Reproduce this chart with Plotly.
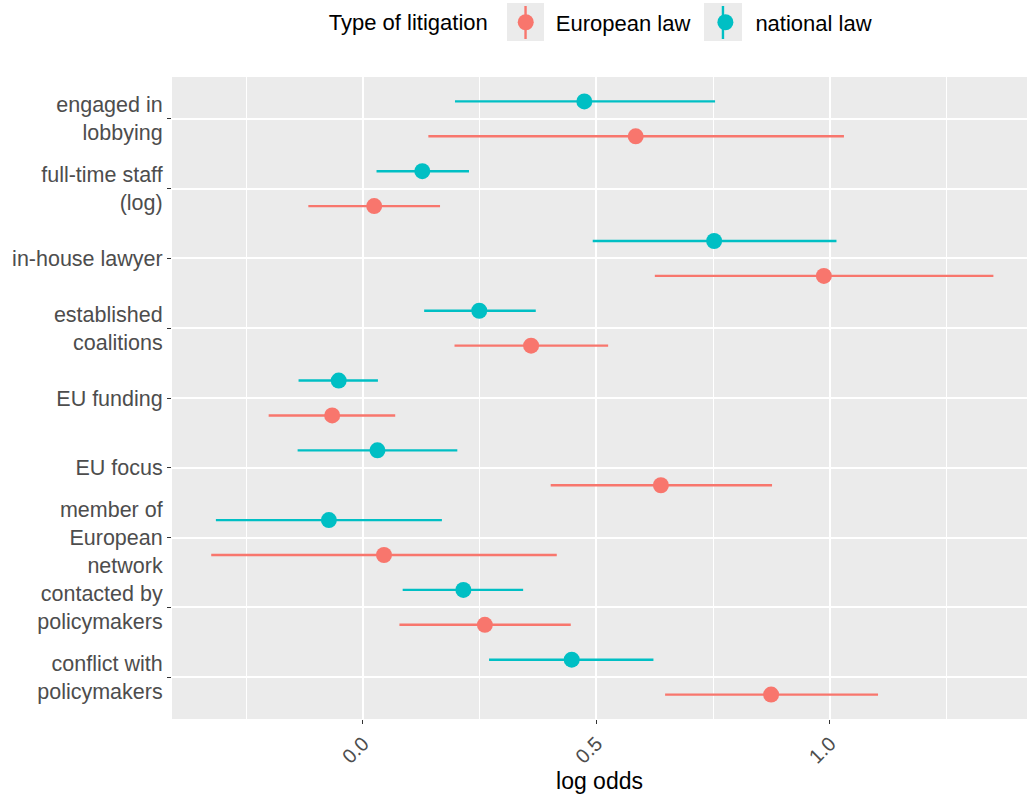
import plotly.graph_objects as go

# ---- data (top to bottom) ----
variables = [
    "engaged in<br>lobbying",
    "full-time staff<br>(log)",
    "in-house lawyer",
    "established<br>coalitions",
    "EU funding",
    "EU focus",
    "member of<br>European<br>network",
    "contacted by<br>policymakers",
    "conflict with<br>policymakers",
]

european_est = [0.584, 0.024, 0.987, 0.360, -0.066, 0.638, 0.045, 0.261, 0.874]
european_lo = [0.140, -0.117, 0.625, 0.196, -0.202, 0.402, -0.325, 0.078, 0.647]
european_hi = [1.030, 0.165, 1.350, 0.525, 0.069, 0.876, 0.415, 0.445, 1.103]

national_est = [0.474, 0.127, 0.752, 0.249, -0.052, 0.031, -0.073, 0.215, 0.447]
national_lo = [0.197, 0.029, 0.492, 0.131, -0.138, -0.140, -0.315, 0.085, 0.270]
national_hi = [0.754, 0.227, 1.014, 0.370, 0.032, 0.202, 0.169, 0.343, 0.622]

x_ticks = [0.0, 0.5, 1.0]
x_ticklabels = ["0.0", "0.5", "1.0"]
x_minor = [-0.25, 0.25, 0.75, 1.25]

# ---- styling ----
RED = "#F8766D"
TEAL = "#00BFC4"
FONT = "Liberation Sans, Arial, Helvetica, sans-serif"
DODGE = 0.25

n = len(variables)
pos = [n - 1 - i for i in range(n)]

fig = go.Figure()

series = [
    ("European law", european_est, european_lo, european_hi, RED, -DODGE),
    ("national law", national_est, national_lo, national_hi, TEAL, DODGE),
]

for name, est, lo, hi, col, off in series:
    fig.add_trace(go.Scatter(
        x=est,
        y=[p + off for p in pos],
        mode="markers",
        name=name,
        marker=dict(color=col, size=16, line=dict(width=0)),
        error_x=dict(
            type="data",
            symmetric=False,
            array=[h - e for h, e in zip(hi, est)],
            arrayminus=[e - l for e, l in zip(est, lo)],
            width=0,
            thickness=2.4,
            color=col,
        ),
    ))

# legend key backgrounds (ggplot style grey key boxes with vertical range line)
key_boxes = [(0.3918, 0.4351, RED, 0.4135), (0.6222, 0.6667, TEAL, 0.6444)]
for x0, x1, col, xc in key_boxes:
    fig.add_shape(type="rect", xref="paper", yref="paper",
                  x0=x0, x1=x1, y0=1.0561, y1=1.1153,
                  fillcolor="#EBEBEB", line=dict(width=0), layer="below")
    fig.add_shape(type="line", xref="paper", yref="paper",
                  x0=xc, x1=xc, y0=1.0592, y1=1.1106,
                  line=dict(color=col, width=2.4), layer="below")

fig.update_layout(
    width=1029,
    height=798,
    margin=dict(l=172, r=2, t=77, b=79, autoexpand=False),
    plot_bgcolor="#EBEBEB",
    paper_bgcolor="white",
    font=dict(family=FONT, size=21, color="#222222"),
    legend=dict(
        orientation="h",
        x=0.181,
        xanchor="left",
        y=1.085,
        yanchor="middle",
        itemwidth=50,
        title=dict(text="Type of litigation", font=dict(size=22, color="black")),
        font=dict(size=22, color="black"),
        bgcolor="rgba(0,0,0,0)",
    ),
    xaxis=dict(
        range=[-0.409, 1.422],
        tickvals=x_ticks,
        ticktext=x_ticklabels,
        tickangle=-45,
        ticks="outside",
        ticklen=4,
        tickwidth=1.2,
        tickcolor="#333333",
        tickfont=dict(size=20, color="#4D4D4D"),
        showgrid=True,
        gridcolor="white",
        gridwidth=1.6,
        minor=dict(tickvals=x_minor, showgrid=True, gridcolor="white", gridwidth=0.8, ticks=""),
        zeroline=False,
        showline=False,
        automargin=False,
        title=dict(text="log odds", font=dict(size=23, color="black"), standoff=6),
    ),
    yaxis=dict(
        range=[-0.6, n - 1 + 0.6],
        tickvals=pos,
        ticktext=variables,
        ticks="outside",
        ticklen=4,
        tickwidth=1.2,
        tickcolor="#333333",
        tickfont=dict(size=21.5, color="#4D4D4D"),
        showgrid=True,
        gridcolor="white",
        gridwidth=1.6,
        zeroline=False,
        showline=False,
        automargin=False,
    ),
)

fig.write_html(
    "out.html",
    config={"displayModeBar": False},
    post_script="document.body.style.margin='0';document.body.style.overflow='hidden';",
)
